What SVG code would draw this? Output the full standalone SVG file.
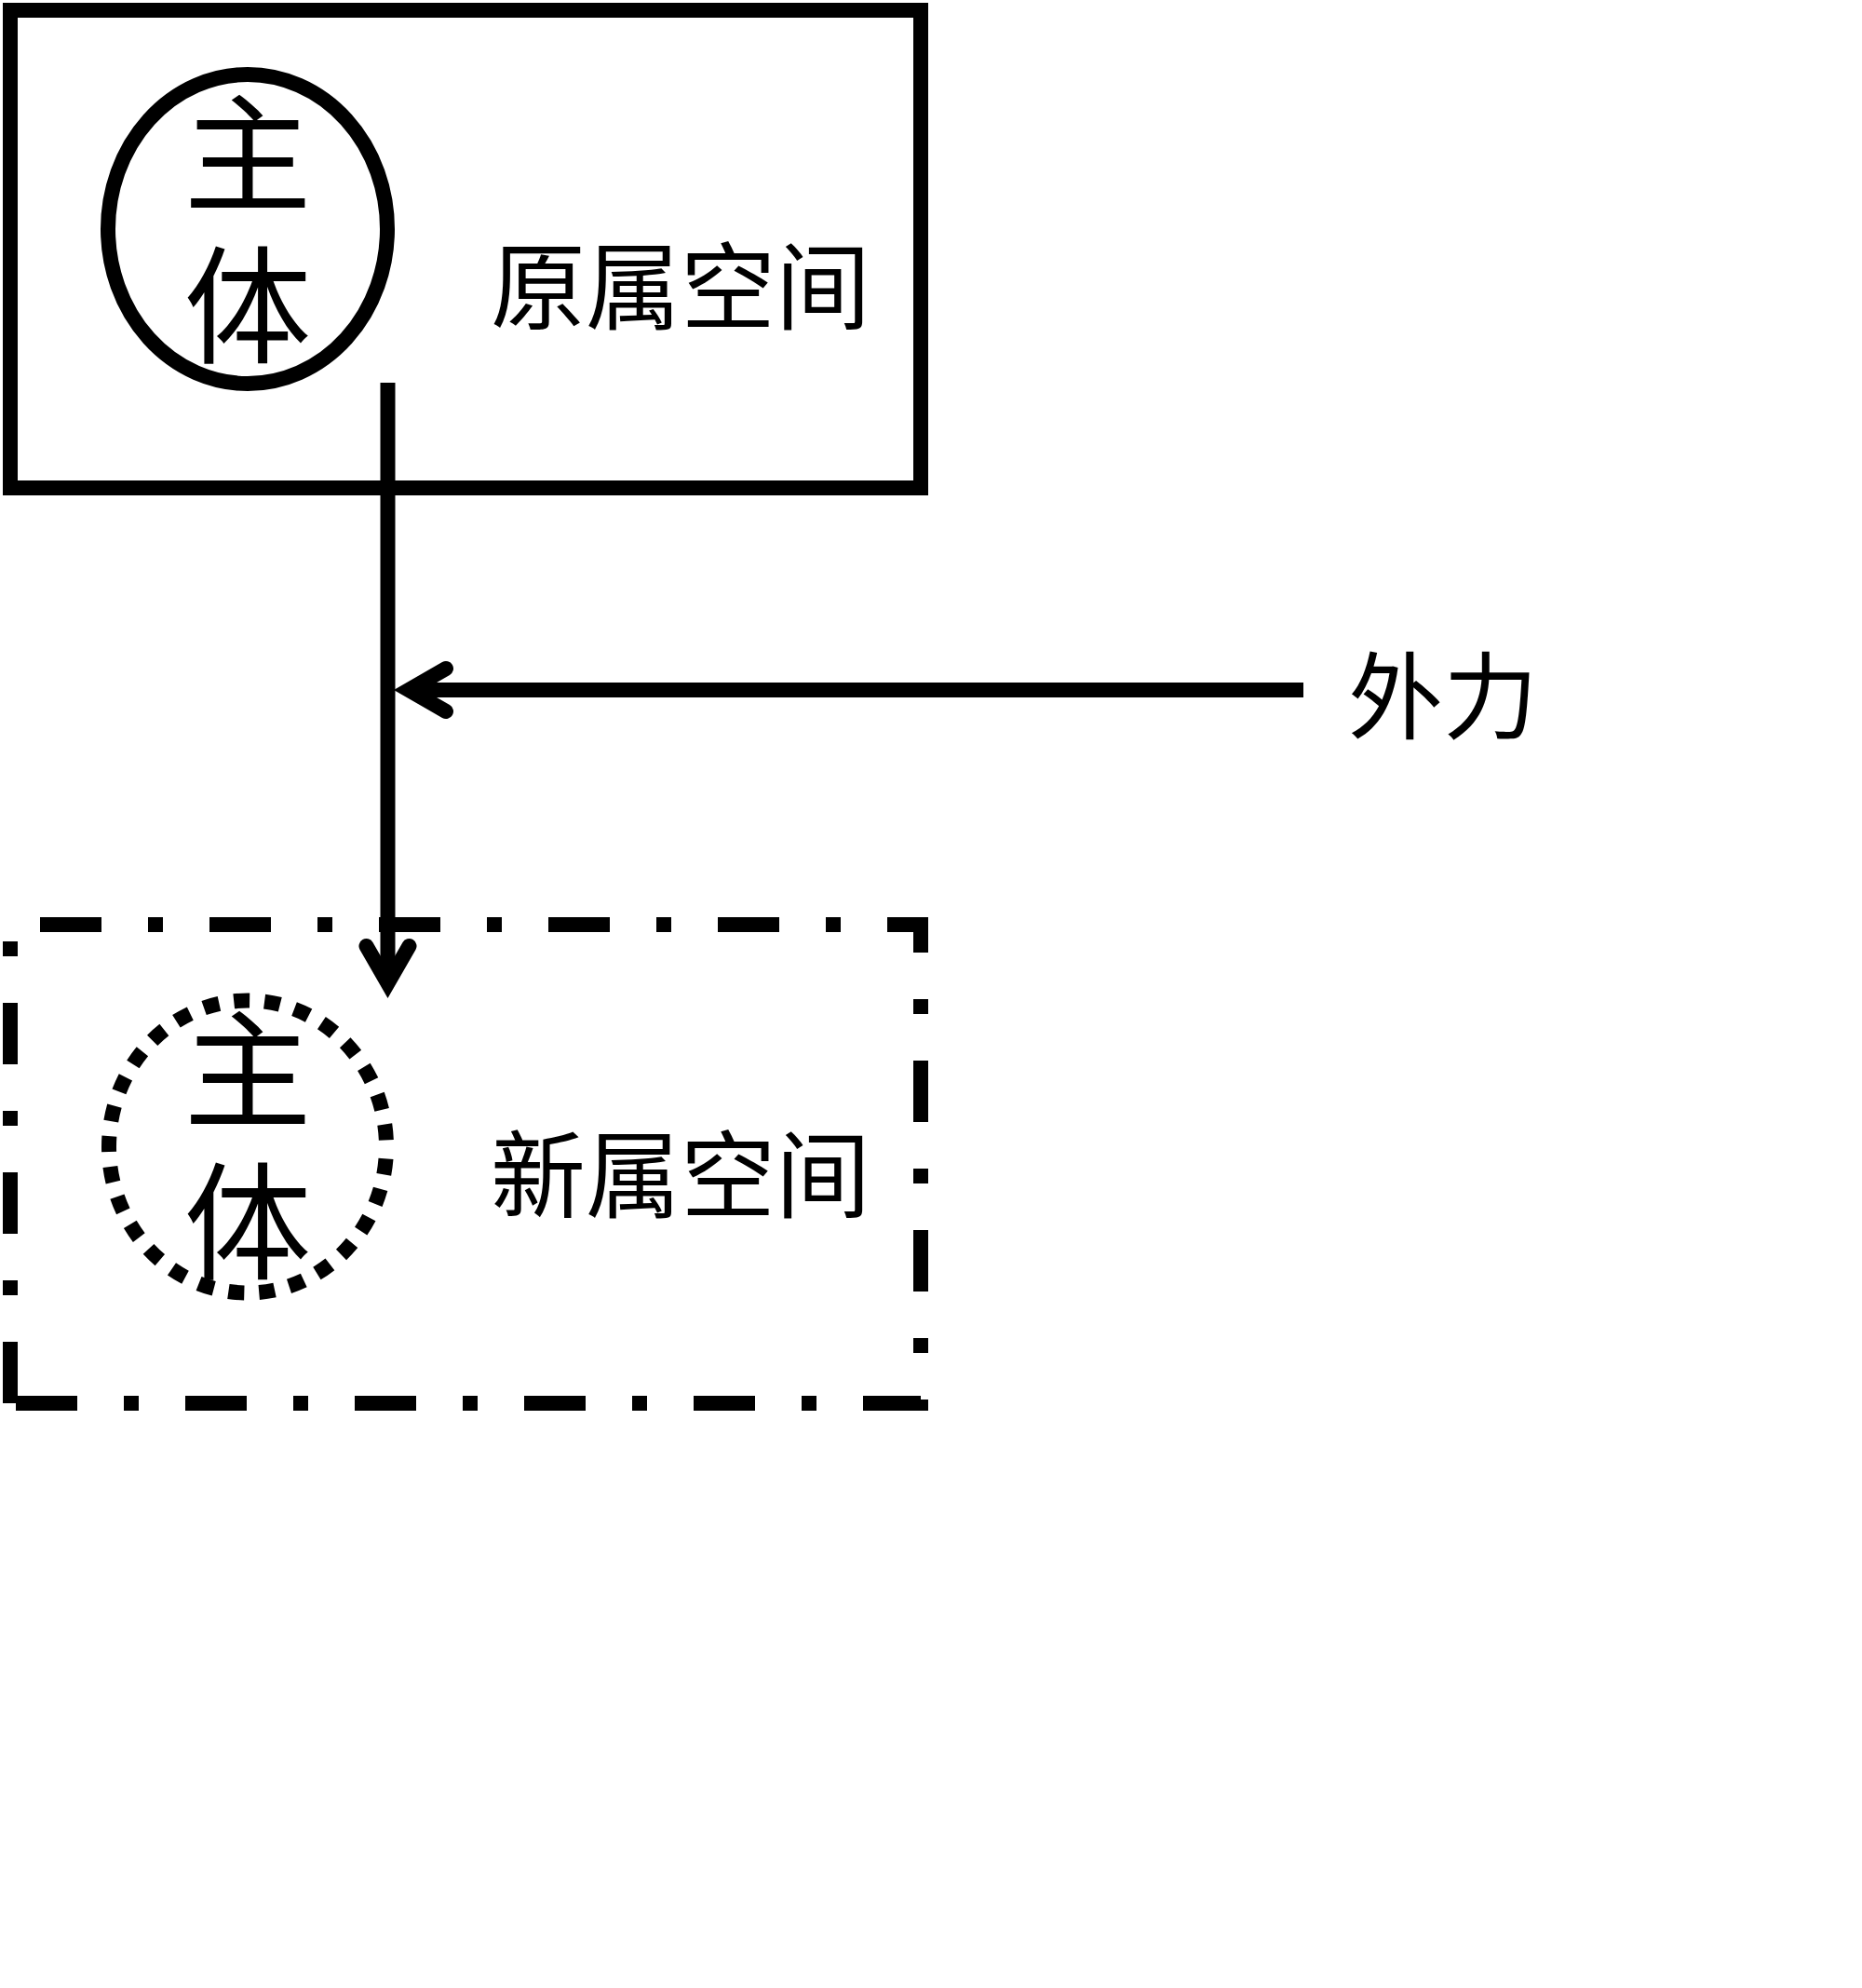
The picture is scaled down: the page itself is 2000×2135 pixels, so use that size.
<svg xmlns="http://www.w3.org/2000/svg" width="2000" height="2135" viewBox="0 0 2000 2135">
<style>
.ln{fill:none;stroke:#000;stroke-width:16}
.t{font-family:"Noto Sans CJK SC","Noto Sans",sans-serif;fill:#000}
.big{font-size:137px}
.lab{font-size:102px}
</style>
<rect x="0" y="0" width="2000" height="2135" fill="#fff"/>
<g id="orig-space">
<rect class="ln" x="11" y="11" width="978" height="513"/>
<text class="t lab" x="731" y="346" text-anchor="middle">原属空间</text>
</g>
<g id="subject-orig">
<ellipse class="ln" cx="266" cy="246" rx="150" ry="166" stroke-width="17"/>
<text class="t big" x="266" y="217" text-anchor="middle">主</text>
<text class="t big" x="266" y="380" text-anchor="middle">体</text>
</g>
<g id="new-space">
<path class="ln" d="M11,1507 L11,993 L989,993 L989,1507 Z" stroke-dasharray="66 50 16 50"/>
<text class="t lab" x="731" y="1300" text-anchor="middle">新属空间</text>
</g>
<g id="subject-new">
<ellipse class="ln" cx="266" cy="1231.5" rx="149" ry="157" stroke-width="17" stroke-dasharray="17 16" stroke-dashoffset="20"/>
<text class="t big" x="266" y="1201" text-anchor="middle">主</text>
<text class="t big" x="266" y="1364" text-anchor="middle">体</text>
</g>
<g id="force">
<text class="t lab" x="1550" y="786" text-anchor="middle">外力</text>
</g>
<g id="connectors">
<path class="ln" d="M416.5,411 L416.5,1056"/>
<path class="ln" d="M393.5,1016 L416.5,1056 L439.5,1016" stroke-linecap="round" stroke-linejoin="miter" stroke-miterlimit="10"/>
<path class="ln" d="M1400,741 L439,741"/>
<path class="ln" d="M479,718 L439,741 L479,764" stroke-linecap="round" stroke-linejoin="miter" stroke-miterlimit="10"/>
</g>
</svg>
